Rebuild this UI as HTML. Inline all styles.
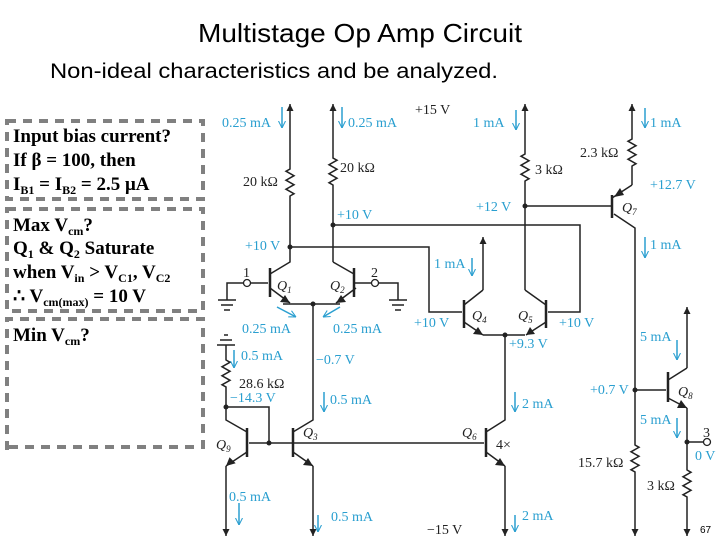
<!DOCTYPE html>
<html><head><meta charset="utf-8"><style>
body{margin:0;background:#fff}
svg{display:block}
.t{font-family:"Liberation Serif",serif;font-size:14px;fill:#222}
.b{font-family:"Liberation Serif",serif;font-size:14px;fill:#2a9fd0}
.q{font-family:"Liberation Serif",serif;font-size:14px;font-style:italic;fill:#222}
.bx{font-family:"Liberation Serif",serif;font-size:19px;font-weight:bold;fill:#000}
.w{stroke:#222;stroke-width:1.5;fill:none}
.tr{stroke:#222;stroke-width:2.5;fill:none}
.bl{stroke:#2a9fd0;stroke-width:1.5;fill:none}
</style></head><body>
<svg width="720" height="540" viewBox="0 0 720 540" xmlns="http://www.w3.org/2000/svg">
<defs>
<marker id="au" viewBox="0 0 10 10" refX="10" refY="5" markerWidth="9" markerHeight="7" markerUnits="userSpaceOnUse" orient="auto"><path d="M0,0 L10,5 L0,10 Z" fill="#222"/></marker>
<marker id="ba" viewBox="0 0 10 10" refX="10" refY="5" markerWidth="7" markerHeight="8" markerUnits="userSpaceOnUse" orient="auto"><path d="M0,0 L10,5 L0,10" fill="none" stroke="#2a9fd0" stroke-width="1.5"/></marker>
</defs>
<text x="360" y="42" text-anchor="middle" font-family="Liberation Sans,sans-serif" font-size="26" textLength="324" lengthAdjust="spacingAndGlyphs">Multistage Op Amp Circuit</text>
<text x="50" y="78" font-family="Liberation Sans,sans-serif" font-size="21" textLength="448" lengthAdjust="spacingAndGlyphs">Non-ideal characteristics and be analyzed.</text>

<g stroke="#808080" stroke-width="4" fill="none" stroke-dasharray="9,7">
<rect x="7" y="121" width="196" height="78"/>
<rect x="7" y="209" width="196" height="102"/>
<path d="M7,450 V319 H203 V447 H7"/>
</g>
<text class="bx" x="13" y="142">Input bias current?</text>
<text class="bx" x="13" y="166">If β = 100, then</text>
<text class="bx" x="13" y="190">I<tspan font-size="12" dy="4">B1</tspan><tspan dy="-4"> = I</tspan><tspan font-size="12" dy="4">B2</tspan><tspan dy="-4"> = 2.5 μA</tspan></text>
<text class="bx" x="13" y="231">Max V<tspan font-size="12" dy="4">cm</tspan><tspan dy="-4">?</tspan></text>
<text class="bx" x="13" y="254">Q<tspan font-size="12" dy="4">1</tspan><tspan dy="-4"> &amp; Q</tspan><tspan font-size="12" dy="4">2</tspan><tspan dy="-4"> Saturate</tspan></text>
<text class="bx" x="13" y="278">when V<tspan font-size="12" dy="4">in</tspan><tspan dy="-4"> &gt; V</tspan><tspan font-size="12" dy="4">C1</tspan><tspan dy="-4">, V</tspan><tspan font-size="12" dy="4">C2</tspan></text>
<text class="bx" x="13" y="302">∴ V<tspan font-size="12" dy="4">cm(max)</tspan><tspan dy="-4"> = 10 V</tspan></text>
<text class="bx" x="13" y="341">Min V<tspan font-size="12" dy="4">cm</tspan><tspan dy="-4">?</tspan></text>

<g class="w">
<path d="M290,247 V196 l4,-2.3 l-8,-4.5 l8,-4.5 l-8,-4.5 l8,-4.5 l-8,-4.5 l4,-2.2 V104" marker-end="url(#au)"/>
<path d="M333,262 V185 l-4,-2.3 l8,-4.5 l-8,-4.5 l8,-4.5 l-8,-4.5 l8,-4.5 l-4,-2.2 V104" marker-end="url(#au)"/>
<path d="M290,247 V262 L270,274"/>
<path d="M333,262 L354,274"/>
<path d="M290,247 H429 V312 H462"/>
<path d="M333,225 H580 V312 H548"/>
<path d="M268,283 H251 M243,283 H227 V300"/>
<path d="M354,283 H371 M379,283 H398 V300"/>
<path d="M283,304 H340"/>
<path d="M313,304 V420 L293,432"/>
<path d="M313,466 V536" marker-end="url(#au)"/>
<path d="M226,345 V360 l4,2.3 l-8,4.5 l8,4.5 l-8,4.5 l8,4.5 l-8,4.5 l4,2.2 V420 L247,432"/>
<path d="M226,407 H269 V443"/>
<path d="M249,443 H484"/>
<path d="M226,466 V536" marker-end="url(#au)"/>
<path d="M505,335 V420 L486,432"/>
<path d="M505,466 V536" marker-end="url(#au)"/>
<path d="M483,290 V237" marker-end="url(#au)"/>
<path d="M464,305 L483,290"/>
<path d="M483,335 H525"/>
<path d="M525,290 L546,305"/>
<path d="M525,290 V181 l4,-2.3 l-8,-4.5 l8,-4.5 l-8,-4.5 l8,-4.5 l-8,-4.5 l4,-2.2 V104" marker-end="url(#au)"/>
<path d="M525,206 H612"/>
<path d="M632,185 V166 l4,-2.3 l-8,-4.5 l8,-4.5 l-8,-4.5 l8,-4.5 l-8,-4.5 l4,-2.2 V104" marker-end="url(#au)"/>
<path d="M614,214 L635,228 V445 l4,2.3 l-8,4.5 l8,4.5 l-8,4.5 l8,4.5 l-8,4.5 l4,2.2 V536" marker-end="url(#au)"/>
<path d="M635,390 H666"/>
<path d="M687,368 V307" marker-end="url(#au)"/>
<path d="M668,380 L687,368"/>
<path d="M687,408 V470 l4,2.3 l-8,4.5 l8,4.5 l-8,4.5 l8,4.5 l-8,4.5 l4,2.2 V536" marker-end="url(#au)"/>
<path d="M687,442 H703"/>
<path d="M218,300 H236 M221,305 H233 M224,310 H230"/>
<path d="M389,300 H407 M392,305 H404 M395,310 H401"/>
<path d="M224,335 H228 M220,340 H232 M217,345 H235"/>
</g>
<g class="w">
<path d="M270,288 L290,303"/><path d="M356,288 L336,303"/>
<path d="M464,322 L483,335"/><path d="M546,322 L526,335"/>
<path d="M293,452 L313,466"/><path d="M247,452 L226,466"/>
<path d="M486,452 L505,466"/><path d="M668,398 L687,408"/>
<path d="M612,198 L632,185"/>
</g>
<g fill="#222">
<path d="M290,303 l-10,-1 l5,-7z"/><path d="M336,303 l5,-8 l5,7z"/>
<path d="M483,335 l-10,-1 l5,-7z"/><path d="M526,335 l4,-8 l5,7z"/>
<path d="M313,466 l-10,-1 l5,-7z"/><path d="M226,466 l5,-8 l5,7z" transform="rotate(-10 226 466)"/>
<path d="M505,466 l-10,-1 l5,-7z"/><path d="M687,408 l-10,0 l4,-8z"/>
<path d="M614,197 l6,-9 l4,7z"/>
<circle cx="290" cy="247" r="2.5"/><circle cx="333" cy="225" r="2.5"/>
<circle cx="313" cy="304" r="2.5"/><circle cx="505" cy="335" r="2.5"/>
<circle cx="525" cy="206" r="2.5"/><circle cx="226" cy="407" r="2.5"/>
<circle cx="269" cy="443" r="2.5"/><circle cx="635" cy="390" r="2.5"/>
<circle cx="687" cy="442" r="2.5"/>
</g>
<g class="tr">
<path d="M270,268 V297 M354,268 V297 M464,300 V328 M546,300 V328 M293,428 V457 M247,428 V457 M486,428 V457 M612,195 V218 M668,372 V402"/>
</g>
<g fill="#fff" stroke="#222" stroke-width="1.3">
<circle cx="247" cy="283" r="3.5"/><circle cx="375" cy="283" r="3.5"/><circle cx="707" cy="442" r="3.5"/>
</g>

<g class="bl">
<path d="M282,107 V128" marker-end="url(#ba)"/>
<path d="M342,107 V128" marker-end="url(#ba)"/>
<path d="M516,110 V130" marker-end="url(#ba)"/>
<path d="M645,108 V128" marker-end="url(#ba)"/>
<path d="M645,237 V258" marker-end="url(#ba)"/>
<path d="M472,258 V276" marker-end="url(#ba)"/>
<path d="M677,340 V360" marker-end="url(#ba)"/>
<path d="M677,418 V438" marker-end="url(#ba)"/>
<path d="M234,350 V368" marker-end="url(#ba)"/>
<path d="M324,392 V412" marker-end="url(#ba)"/>
<path d="M515,392 V412" marker-end="url(#ba)"/>
<path d="M239,503 V525" marker-end="url(#ba)"/>
<path d="M318,515 V532" marker-end="url(#ba)"/>
<path d="M515,515 V532" marker-end="url(#ba)"/>
<path d="M277,307 L296,317" marker-end="url(#ba)"/>
<path d="M340,307 L323,317" marker-end="url(#ba)"/>
</g>

<g class="b">
<text x="222" y="127">0.25 mA</text>
<text x="348" y="127">0.25 mA</text>
<text x="473" y="127">1 mA</text>
<text x="650" y="127">1 mA</text>
<text x="650" y="189">+12.7 V</text>
<text x="476" y="211">+12 V</text>
<text x="650" y="249">1 mA</text>
<text x="337" y="219">+10 V</text>
<text x="245" y="250">+10 V</text>
<text x="434" y="268">1 mA</text>
<text x="242" y="333">0.25 mA</text>
<text x="333" y="333">0.25 mA</text>
<text x="414" y="327">+10 V</text>
<text x="559" y="327">+10 V</text>
<text x="509" y="348">+9.3 V</text>
<text x="640" y="341">5 mA</text>
<text x="241" y="360">0.5 mA</text>
<text x="316" y="364">−0.7 V</text>
<text x="230" y="402">−14.3 V</text>
<text x="330" y="404">0.5 mA</text>
<text x="522" y="408">2 mA</text>
<text x="590" y="394">+0.7 V</text>
<text x="640" y="424">5 mA</text>
<text x="695" y="460">0 V</text>
<text x="229" y="501">0.5 mA</text>
<text x="331" y="521">0.5 mA</text>
<text x="522" y="520">2 mA</text>
</g>
<g class="t">
<text x="415" y="114">+15 V</text>
<text x="243" y="186">20 kΩ</text>
<text x="340" y="172">20 kΩ</text>
<text x="535" y="174">3 kΩ</text>
<text x="580" y="157">2.3 kΩ</text>
<text x="243" y="277">1</text>
<text x="371" y="277">2</text>
<text x="239" y="388">28.6 kΩ</text>
<text x="496" y="449">4×</text>
<text x="578" y="467">15.7 kΩ</text>
<text x="647" y="490">3 kΩ</text>
<text x="703" y="437">3</text>
<text x="427" y="534">−15 V</text>
</g>
<g class="q">
<text x="277" y="290">Q<tspan font-size="9" dy="3">1</tspan></text>
<text x="330" y="290">Q<tspan font-size="9" dy="3">2</tspan></text>
<text x="472" y="320">Q<tspan font-size="9" dy="3">4</tspan></text>
<text x="518" y="320">Q<tspan font-size="9" dy="3">5</tspan></text>
<text x="622" y="212">Q<tspan font-size="9" dy="3">7</tspan></text>
<text x="678" y="396">Q<tspan font-size="9" dy="3">8</tspan></text>
<text x="216" y="449">Q<tspan font-size="9" dy="3">9</tspan></text>
<text x="303" y="437">Q<tspan font-size="9" dy="3">3</tspan></text>
<text x="462" y="437">Q<tspan font-size="9" dy="3">6</tspan></text>
</g>
<text x="700" y="533" font-family="Liberation Sans,sans-serif" font-size="10">67</text>
</svg>
</body></html>
